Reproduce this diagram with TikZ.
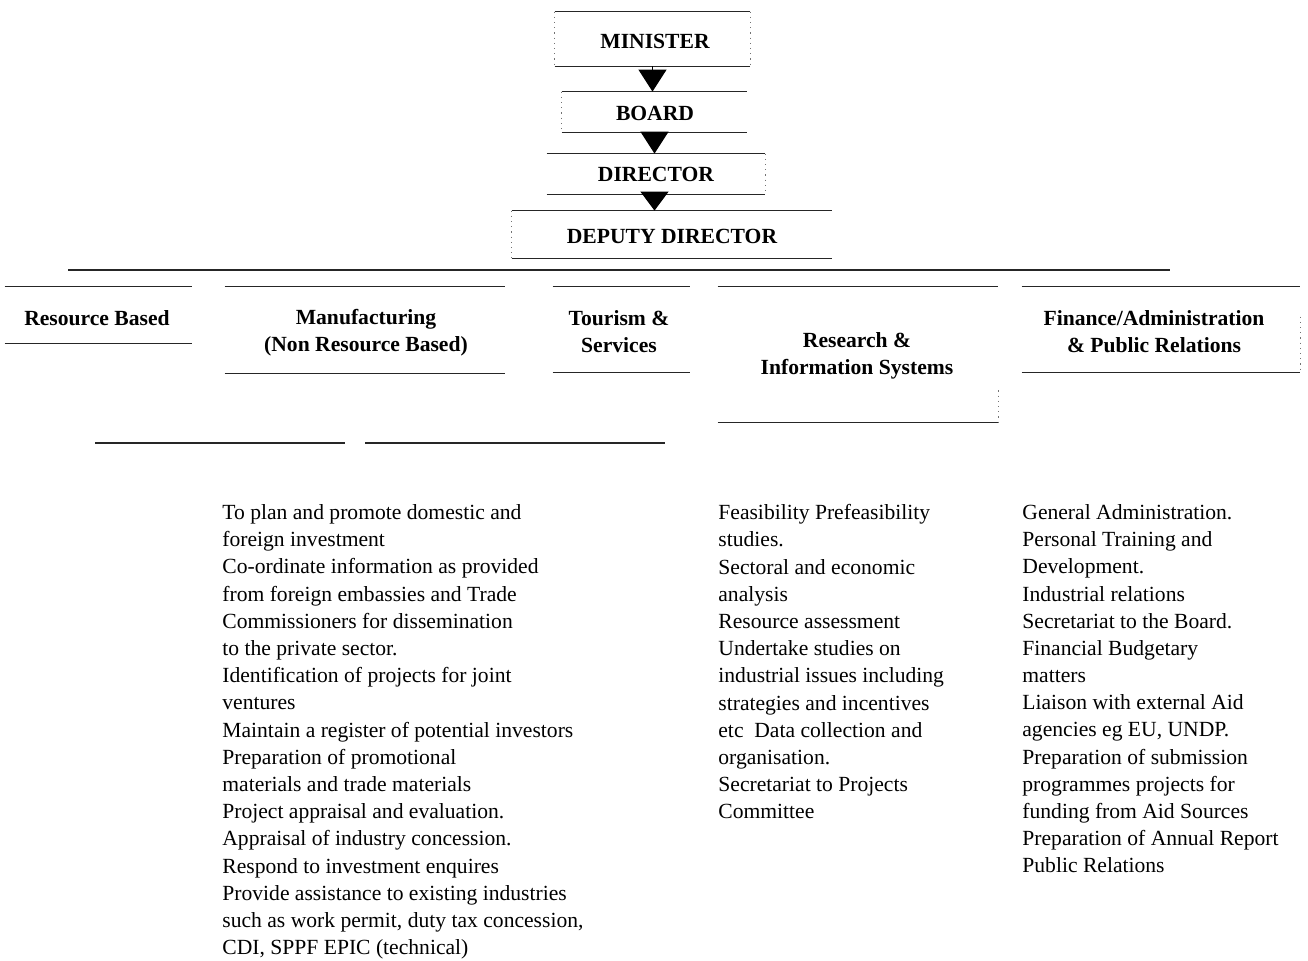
\documentclass[tikz,border=0pt]{standalone}
\usepackage{fontspec}
\setmainfont{Liberation Serif}
\usetikzlibrary{arrows.meta,fit}
\begin{document}
\begin{tikzpicture}[x=0.5pt,y=-0.5pt,
  txt/.style={font=\fontsize{10.8}{13.6}\selectfont, inner sep=0pt},
  head/.style={txt, font=\fontsize{10.8}{13.6}\selectfont\bfseries, align=center},
  duty/.style={txt, align=left, anchor=north west},
  frame/.style={inner sep=0pt, minimum size=0pt},
  rule/.style={line width=0.6pt, black!85},
  side/.style={line width=0.6pt, black!55, dotted},
  pointer/.style={-{Triangle[length=#1,width=14pt]}, line width=0.6pt, black},
  pointer/.default=11pt
]
\useasboundingbox (0,0) rectangle (1308,960);

% box frames: solid top and bottom rules
\newcommand\orgframe[5]{%
  \node[frame, fit={(#2,#3) (#4,#5)}] (#1) {};
  \draw[rule] (#1.north west) -- (#1.north east) (#1.south west) -- (#1.south east);
}

% ---- chain of command ----
\orgframe{minister}{555}{12}{750}{66}
\orgframe{board}{562}{92}{747}{132}
\orgframe{director}{547}{154}{765}{194}
\orgframe{deputy}{512}{211}{832}{258}
\draw[side] (minister.north west) -- (minister.south west)
            (minister.north east) -- (minister.south east);
\draw[side] (board.north west) -- (board.south west);
\draw[side] (director.north east) -- (director.south east);
\draw[side] (deputy.north west) -- (deputy.south west);

\node[head] (minister-t) at (655,41) {MINISTER};
\node[head] (board-t) at (655,113) {BOARD};
\node[head] (director-t) at (656,174) {DIRECTOR};
\node[head] (deputy-t) at (672,236) {DEPUTY DIRECTOR};

\draw[pointer] (minister.south) -- (minister.south |- board.north);
\draw[pointer] (board.south) -- (board.south |- director.north);
\draw[pointer=9.5pt] (director.south -| board.south) -- (board.south |- deputy.north);

% ---- divisional rule ----
\coordinate (busL) at (68,270);
\coordinate (busR) at (1170,270);
\draw[rule] (busL) -- (busR);

% ---- divisions ----
\orgframe{resource}{5}{287}{192}{343}
\orgframe{manufacturing}{225}{287}{505}{373}
\orgframe{tourism}{553}{287}{690}{372}
\orgframe{research}{718}{287}{998}{422}
\orgframe{finance}{1022}{287}{1300}{372}
\draw[side] ([yshift=16pt]research.south east) -- (research.south east);
\draw[side] ([yshift=-15pt]finance.north east) -- (finance.south east);

\node[head] (resource-t) at (97,318) {Resource Based};
\node[head] (manufacturing-t) at (366,333) {Manufacturing\\(Non Resource Based)};
\node[head] (tourism-t) at (619,332) {Tourism \&\\Services};
\node[head] (research-t) at (857,356) {Research \&\\Information Systems};
\node[head] (finance-t) at (1154,332) {Finance/Administration\\\& Public Relations};

\coordinate (lowA) at (95,443);
\coordinate (lowB) at (345,443);
\coordinate (lowC) at (365,443);
\coordinate (lowD) at (665,443);
\draw[rule] (lowA) -- (lowB) (lowC) -- (lowD);

% ---- duties ----
\node[duty] (duties-manufacturing) at (222,504) {%
To plan and promote domestic and\\
foreign investment\\
Co-ordinate information as provided\\
from foreign embassies and Trade\\
Commissioners for dissemination\\
to the private sector.\\
Identification of projects for joint\\
ventures\\
Maintain a register of potential investors\\
Preparation of promotional\\
materials and trade materials\\
Project appraisal and evaluation.\\
Appraisal of industry concession.\\
Respond to investment enquires\\
Provide assistance to existing industries\\
such as work permit, duty tax concession,\\
CDI, SPPF EPIC (technical)};

\node[duty] (duties-research) at (718,504) {%
Feasibility Prefeasibility\\
studies.\\
Sectoral and economic\\
analysis\\
Resource assessment\\
Undertake studies on\\
industrial issues including\\
strategies and incentives\\
etc \ Data collection and\\
organisation.\\
Secretariat to Projects\\
Committee};

\node[duty] (duties-finance) at (1022,504) {%
General Administration.\\
Personal Training and\\
Development.\\
Industrial relations\\
Secretariat to the Board.\\
Financial Budgetary\\
matters\\
Liaison with external Aid\\
agencies eg EU, UNDP.\\
Preparation of submission\\
programmes projects for\\
funding from Aid Sources\\
Preparation of Annual Report\\
Public Relations};
\end{tikzpicture}
\end{document}
